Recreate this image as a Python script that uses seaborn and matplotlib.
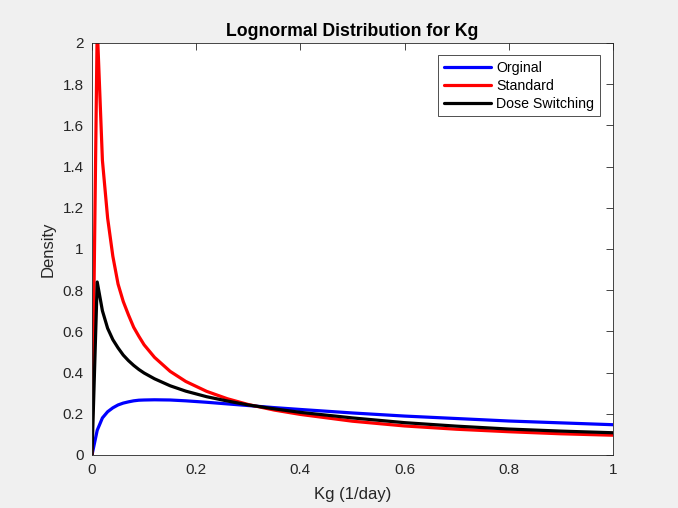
import matplotlib
matplotlib.use("Agg")
import matplotlib.pyplot as plt
import seaborn as sns
import pandas as pd
from matplotlib.ticker import FuncFormatter

# Data
kg = [0, 0.01, 0.02, 0.03, 0.04, 0.05, 0.06, 0.07, 0.08, 0.09, 0.10, 0.12, 0.15,
      0.18, 0.22, 0.26, 0.30, 0.35, 0.40, 0.50, 0.60, 0.70, 0.80, 0.90, 1.00]
orginal = [0, 0.12, 0.18, 0.21, 0.229, 0.243, 0.252, 0.258, 0.263, 0.266, 0.267,
           0.268, 0.267, 0.263, 0.256, 0.248, 0.240, 0.230, 0.221, 0.204, 0.189,
           0.177, 0.165, 0.156, 0.147]
standard = [0, 2.08, 1.43, 1.15, 0.965, 0.83, 0.745, 0.68, 0.62, 0.576, 0.535,
            0.474, 0.406, 0.357, 0.309, 0.273, 0.245, 0.218, 0.197, 0.164, 0.141,
            0.125, 0.113, 0.103, 0.096]
dose_switching = [0, 0.84, 0.70, 0.615, 0.56, 0.52, 0.485, 0.458, 0.435, 0.415,
                  0.398, 0.37, 0.336, 0.31, 0.283, 0.262, 0.243, 0.224, 0.207,
                  0.180, 0.157, 0.140, 0.126, 0.116, 0.108]
series_names = ["Orginal", "Standard", "Dose Switching"]
series_colors = ["#0000ff", "#ff0000", "#000000"]
x_ticks = [0, 0.2, 0.4, 0.6, 0.8, 1.0]
y_ticks = [0, 0.2, 0.4, 0.6, 0.8, 1.0, 1.2, 1.4, 1.6, 1.8, 2.0]

sns.set_style("white")
plt.rcParams["font.family"] = ["Liberation Sans", "DejaVu Sans"]

fig = plt.figure(figsize=(6.78, 5.08), dpi=100, facecolor="#f0f0f0")
ax = fig.add_axes([92 / 678, 53 / 508, (613 - 92) / 678, (455 - 43) / 508])
ax.set_facecolor("white")

for name, vals, col in zip(series_names, [orginal, standard, dose_switching], series_colors):
    df = pd.DataFrame({"Kg": kg, "Density": vals})
    sns.lineplot(data=df, x="Kg", y="Density", color=col, linewidth=2.3,
                 label=name, ax=ax, sort=False)

ax.set_xlim(0, 1)
ax.set_ylim(0, 2)
ax.set_xticks(x_ticks)
ax.set_yticks(y_ticks)
fmt = FuncFormatter(lambda v, p: f"{v:g}")
ax.xaxis.set_major_formatter(fmt)
ax.yaxis.set_major_formatter(fmt)
axis_col = "#262626"
ax.tick_params(direction="in", length=5, width=0.6, colors=axis_col,
               labelsize=11, top=True, right=True, pad=6,
               labelcolor="#262626")
for s in ax.spines.values():
    s.set_color(axis_col)
    s.set_linewidth(0.6)

ax.set_xlabel("Kg (1/day)", fontsize=12, color=axis_col, labelpad=7)
ax.set_ylabel("Density", fontsize=12, color=axis_col, labelpad=5)
ax.set_title("Lognormal Distribution for Kg", fontsize=12.7, fontweight="bold",
             color="black", pad=5)

leg = ax.legend(loc="upper right", bbox_to_anchor=(0.975, 0.971), fontsize=10.2,
                frameon=True, fancybox=False, handlelength=3.3, handletextpad=0.4,
                borderpad=0.4, labelspacing=0.28, borderaxespad=0)
leg.get_frame().set_edgecolor("black")
leg.get_frame().set_linewidth(0.6)
for t in leg.get_texts():
    t.set_color("black")

fig.savefig("out.png", dpi=100, facecolor=fig.get_facecolor())
